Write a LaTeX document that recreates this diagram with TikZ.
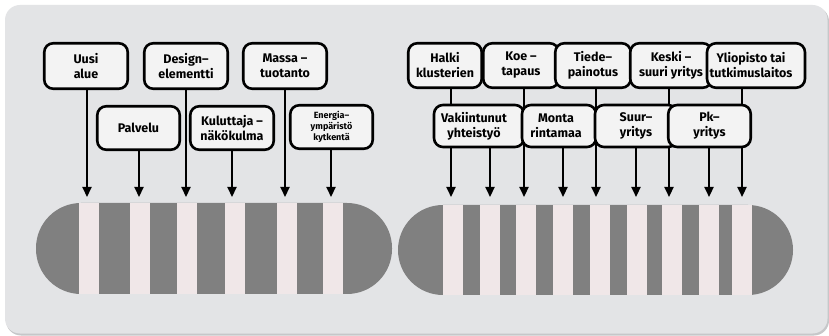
\documentclass[tikz,border=0pt]{standalone}
\usepackage{fontspec}
\setmainfont{Fira Sans}
\usetikzlibrary{arrows.meta}
\definecolor{panel}{HTML}{E3E4E6}
\definecolor{panelshade}{HTML}{C6C7C9}
\definecolor{boxfill}{HTML}{F3F3F3}
\definecolor{band}{HTML}{808080}
\definecolor{stripe}{HTML}{F0E7E8}
\begin{document}
\begin{tikzpicture}[x=1pt,y=-1pt,
  box/.style={draw=black, line width=2.6pt, rounded corners=9pt, fill=boxfill,
    inner sep=0pt, align=center, font=\bfseries\fontsize{12.5}{15}\selectfont},
  lbl/.style={inner sep=0pt, align=center, font=\bfseries\fontsize{12.5}{15}\selectfont},
  smalltext/.style={font=\bfseries\fontsize{9}{11}\selectfont},
  conn/.style={draw=black, line width=2.2pt, -{Triangle[length=10pt,width=9pt]}},
  band/.style={fill=band, rounded corners=45pt},
  stripe/.style={fill=stripe}]
\useasboundingbox (0,0) rectangle (829,336);
\fill[white] (0,0) rectangle (829,336);
% panel with a soft edge
\fill[panelshade, rounded corners=15pt] (6,6.5) rectangle (829,335.5);
\fill[panel, rounded corners=15pt] (5,5) rectangle (827.5,333.5);

% the two banded bars
\fill[band] (36,203) rectangle (392,294);
\foreach \x in {79,130,177,225,277,323}
  \fill[stripe] (\x,203) rectangle ++(20,91);
\fill[band] (398,205) rectangle (793,295);
\foreach \x in {443,480,516,553,590,627,662,699,732}
  \fill[stripe] (\x,205) rectangle ++(20,90);

% arrow tips
\foreach \i/\x in {1/87,2/139,3/186,4/232,5/285,6/331}
  \coordinate (l\i) at (\x,197);
\foreach \i/\x in {1/451,2/490,3/524,4/563,5/596,6/636,7/669,8/709,9/742}
  \coordinate (r\i) at (\x,197);

% left group, upper row
\node[box, minimum width=83.5pt, minimum height=45.5pt] (uusi) at (86,66) {Uusi\\alue};
\node[box, minimum width=83.5pt, minimum height=45.5pt] (design) at (186,66) {Design–\\elementti};
\node[box, minimum width=83.5pt, minimum height=45.5pt] (massa) at (285,66) {Massa –\\tuotanto};
\draw[conn] (uusi.south -| l1) -- (l1);
\draw[conn] (design.south -| l3) -- (l3);
\draw[conn] (massa.south -| l5) -- (l5);

% left group, lower row
\node[box, minimum width=82.5pt, minimum height=43.5pt] (palvelu) at (138.5,128) {Palvelu};
\node[box, minimum width=83.5pt, minimum height=43.5pt] (kulutt) at (232,128) {Kuluttaja –\\näkökulma};
\node[box, smalltext, minimum width=82.5pt, minimum height=43.5pt] (energia) at (331.5,127) {Energia–\\ympäristö\\kytkentä};
\draw[conn] (palvelu.south -| l2) -- (l2);
\draw[conn] (kulutt.south -| l4) -- (l4);
\draw[conn] (energia.south -| l6) -- (l6);

% right group, upper row
\node[box, minimum width=73.5pt, minimum height=44.5pt] (halki) at (445,65.5) {Halki\\klusterien};
\node[box, minimum width=75.5pt, minimum height=44.5pt] (koe) at (521,65.5) {Koe –\\tapaus};
\node[box, minimum width=75.5pt, minimum height=44.5pt] (tiede) at (593,65.5) {Tiede–\\painotus};
\node[box, minimum width=81.5pt, minimum height=44.5pt] (keski) at (671,65.5) {Keski –\\suuri yritys};
\node[box, minimum width=98pt, minimum height=44.5pt] (yliop) at (756,65.5) {};
\node[lbl] (yliopt) at (751,65.5) {Yliopisto tai\\tutkimuslaitos};
\draw[conn] (halki.south -| r1) -- (r1);
\draw[conn] (koe.south -| r3) -- (r3);
\draw[conn] (tiede.south -| r5) -- (r5);
\draw[conn] (keski.south -| r7) -- (r7);
\draw[conn] (yliop.south -| r9) -- (r9);

% right group, lower row
\node[box, minimum width=90pt, minimum height=42pt] (vakiin) at (479,126) {};
\node[lbl] (vakiint) at (474,126) {Vakiintunut\\yhteistyö};
\node[box, minimum width=74pt, minimum height=42pt] (monta) at (559,126) {};
\node[lbl] (montat) at (556,126) {Monta\\rintamaa};
\node[box, minimum width=82pt, minimum height=42pt] (suur) at (636,126) {Suur–\\yritys};
\node[box, minimum width=82.5pt, minimum height=42pt] (pk) at (709.5,126) {Pk–\\yritys};
\draw[conn] (vakiin.south -| r2) -- (r2);
\draw[conn] (monta.south -| r4) -- (r4);
\draw[conn] (suur.south -| r6) -- (r6);
\draw[conn] (pk.south -| r8) -- (r8);
\end{tikzpicture}
\end{document}
